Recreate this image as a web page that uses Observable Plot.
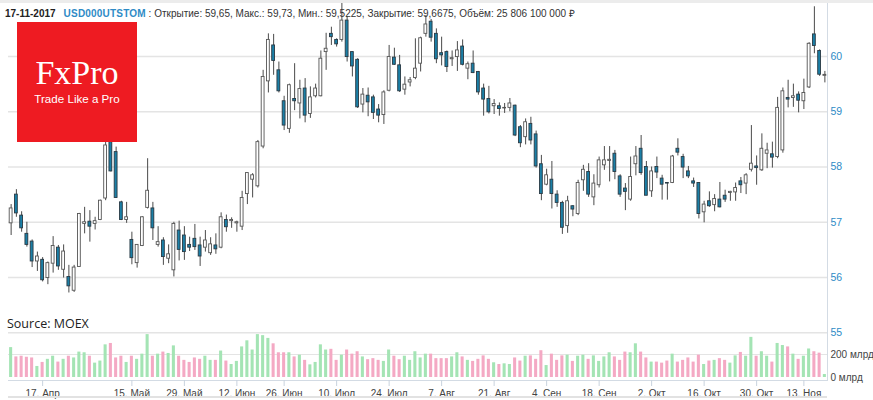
<!DOCTYPE html>
<html><head><meta charset="utf-8">
<script src="https://cdn.jsdelivr.net/npm/d3@7"></script>
<script src="https://cdn.jsdelivr.net/npm/@observablehq/plot@0.6"></script>
<style>
body{margin:0;background:#fff;}
#wrap{position:relative;width:873px;height:400px;overflow:hidden;font-family:"Liberation Sans",Arial,sans-serif;background:#fff;}
#wrap > svg, #wrap > .layer{position:absolute;left:0;top:0;}
#topbar{position:absolute;left:0;top:0;width:873px;height:3px;background:#ececec;}
#header{position:absolute;left:5px;top:8px;font-size:10px;color:#333;white-space:nowrap;line-height:12px;}
#header b.d{color:#222;}
#header b.t{color:#2e8bc6;margin-left:8px;letter-spacing:0.2px;}
#source{position:absolute;left:7px;top:315px;font-family:"Open Sans",sans-serif;font-size:12.5px;color:#222;}
#nav{position:absolute;left:8px;top:396px;width:819px;height:2px;background:#e2e2e2;}
</style></head><body>
<div id="wrap"></div>
<script>
// Trading days, 2017
const dates = [
"04-07","04-10","04-11","04-12","04-13","04-14","04-17","04-18","04-19","04-20","04-21","04-24","04-25","04-26","04-27","04-28",
"05-02","05-03","05-04","05-05","05-10","05-11","05-12","05-15","05-16","05-17","05-18","05-19","05-22","05-23","05-24","05-25","05-26","05-29","05-30","05-31",
"06-01","06-02","06-05","06-06","06-07","06-08","06-09","06-13","06-14","06-15","06-16","06-19","06-20","06-21","06-22","06-23","06-26","06-27","06-28","06-29","06-30",
"07-03","07-04","07-05","07-06","07-07","07-10","07-11","07-12","07-13","07-14","07-17","07-18","07-19","07-20","07-21","07-24","07-25","07-26","07-27","07-28","07-31",
"08-01","08-02","08-03","08-04","08-07","08-08","08-09","08-10","08-11","08-14","08-15","08-16","08-17","08-18","08-21","08-22","08-23","08-24","08-25","08-28","08-29","08-30","08-31",
"09-01","09-04","09-05","09-06","09-07","09-08","09-11","09-12","09-13","09-14","09-15","09-18","09-19","09-20","09-21","09-22","09-25","09-26","09-27","09-28","09-29",
"10-02","10-03","10-04","10-05","10-06","10-09","10-10","10-11","10-12","10-13","10-16","10-17","10-18","10-19","10-20","10-23","10-24","10-25","10-26","10-27","10-30","10-31",
"11-01","11-02","11-03","11-07","11-08","11-09","11-10","11-13","11-14","11-15","11-16","11-17"
];
const open = [
56.98,57.50,57.12,56.79,56.65,56.29,56.32,55.99,56.25,56.54,
56.14,56.01,55.76,56.19,56.97,57.01,56.97,57.04,57.43,58.45,
58.27,57.36,57.04,56.68,56.26,56.57,57.26,57.25,56.59,56.67,
56.34,56.13,56.85,56.76,56.59,56.70,56.58,56.54,56.44,56.58,
56.54,57.04,57.02,56.98,56.92,57.51,57.77,57.65,58.37,59.55,
60.20,59.75,59.19,58.69,59.23,59.15,59.42,58.96,59.28,59.28,
60.08,60.41,60.30,60.30,60.65,60.08,59.94,59.13,59.29,59.26,
59.04,58.94,59.38,59.98,59.84,59.40,59.53,59.61,59.87,60.41,
60.63,60.41,60.06,60.08,59.95,59.99,60.18,59.78,59.87,59.72,
59.42,59.23,59.10,59.10,59.06,59.07,59.11,58.72,58.54,58.78,
58.59,58.05,57.68,57.77,57.50,57.35,56.93,57.29,57.15,57.76,
57.91,57.45,57.67,58.03,58.11,58.24,57.83,57.61,57.41,58.05,
58.33,58.00,57.56,58.00,57.79,57.71,57.71,58.33,58.18,57.92,
57.74,57.71,57.18,57.38,57.31,57.41,57.48,57.53,57.54,57.74,
57.70,57.95,58.01,57.94,58.24,58.23,58.18,58.30,59.25,59.25,
59.31,59.19,59.44,60.40,60.10,59.65
];
const high = [
57.32,57.59,57.19,57.00,56.68,56.46,56.36,56.28,56.74,56.58,
56.59,56.22,56.22,57.16,57.27,57.21,57.09,57.40,58.45,58.51,
58.36,57.38,57.36,56.82,56.59,57.10,58.15,57.36,56.92,56.72,
56.59,57.00,57.02,56.92,56.73,56.96,56.73,56.85,56.72,56.79,
57.17,57.13,57.08,57.02,57.56,57.89,57.88,58.48,59.75,60.41,
60.40,59.90,59.28,59.50,59.87,59.57,59.60,59.45,59.50,60.10,
60.42,60.53,60.32,60.96,60.72,60.08,59.96,59.42,59.43,59.30,
59.13,59.38,60.20,60.15,60.02,59.63,59.62,60.32,60.35,60.74,
60.67,60.50,60.35,60.10,60.10,60.27,60.30,59.90,60.10,59.73,
59.50,59.46,59.22,59.16,59.15,59.24,59.12,58.75,58.87,58.90,
58.65,58.21,57.96,58.10,57.57,57.38,57.47,57.30,57.76,58.03,
58.06,57.86,58.18,58.37,58.37,58.30,57.86,57.70,58.18,58.37,
58.57,58.10,58.00,58.18,57.85,57.72,58.21,58.51,58.23,58.01,
57.80,57.71,57.38,57.55,57.50,57.72,57.58,57.56,57.71,57.81,
57.88,58.75,58.20,58.60,58.43,58.45,59.26,59.43,59.57,59.50,
59.36,59.59,60.25,60.90,60.12,59.73
];
const low = [
56.76,57.09,56.82,56.55,56.18,56.11,55.92,55.87,56.08,56.13,
55.99,55.72,55.73,56.19,56.79,56.64,56.86,57.03,57.39,57.91,
57.43,57.03,56.98,56.23,56.17,56.56,57.24,56.67,56.55,56.22,
56.25,56.01,56.30,56.31,56.47,56.49,56.20,56.46,56.40,56.42,
56.52,56.82,56.89,56.82,56.85,57.32,57.44,57.62,58.33,59.34,
59.66,59.34,58.66,58.61,59.02,58.87,58.80,58.88,59.25,59.27,
59.75,60.20,60.17,60.26,59.90,59.63,59.06,58.98,58.91,58.86,
58.80,58.77,59.36,59.84,59.35,59.30,59.45,59.58,59.72,60.35,
60.26,59.87,59.83,59.71,59.82,59.73,59.83,59.58,59.69,59.30,
58.92,58.96,58.95,58.92,58.97,59.00,58.55,58.35,58.40,58.40,
57.98,57.39,57.66,57.24,57.27,56.78,56.80,57.10,57.12,57.56,
57.45,57.30,57.62,57.94,57.73,57.77,57.45,57.21,57.38,57.84,
57.85,57.48,57.45,57.79,57.40,57.40,57.70,58.20,57.79,57.79,
57.63,57.06,56.99,57.27,57.19,57.26,57.36,57.38,57.38,57.52,
57.50,57.91,57.67,57.92,57.97,57.98,58.15,58.25,59.07,59.08,
58.98,59.04,59.42,60.05,59.64,59.5225
];
const close = [
57.25,57.16,56.89,56.59,56.29,56.38,55.95,56.26,56.57,56.20,
56.47,55.84,56.18,57.15,57.00,56.92,57.02,57.39,58.39,57.92,
57.44,57.04,57.09,56.35,56.59,57.09,57.57,56.89,56.64,56.37,
56.42,56.97,56.50,56.46,56.54,56.55,56.38,56.67,56.60,56.51,
57.09,56.91,57.04,57.00,57.44,57.89,57.85,58.45,59.63,60.30,
59.92,59.37,58.75,59.48,59.19,59.41,58.93,59.26,59.42,59.96,
60.14,60.35,60.22,60.65,59.99,59.82,59.08,59.31,59.17,58.98,
58.93,59.35,59.99,59.85,59.37,59.49,59.57,59.78,60.33,60.58,
60.34,59.95,60.02,59.81,59.97,60.11,59.85,59.86,59.70,59.35,
59.22,58.99,59.14,59.05,59.07,59.15,58.57,58.43,58.81,58.48,
58.01,57.51,57.85,57.51,57.35,56.90,57.38,57.23,57.71,57.95,
57.50,57.70,58.12,58.12,58.13,57.91,57.50,57.55,57.82,58.19,
57.89,57.48,57.92,57.90,57.68,57.70,58.19,58.26,57.99,57.83,
57.70,57.15,57.32,57.29,57.42,57.27,57.41,57.55,57.62,57.67,
57.85,58.06,57.98,58.33,58.30,58.17,59.07,59.37,59.22,59.28,
59.20,59.34,60.23,60.19,59.67,59.6675
];
// volume, billions of rubles (млрд)
const volume = [
260,179,185,176,170,96,131,158,185,134,
158,185,170,221,215,185,125,143,284,296,
170,185,131,185,158,203,373,185,203,221,
209,275,185,149,131,170,158,185,149,149,
230,143,113,140,266,319,239,373,364,340,
293,215,215,215,179,194,149,110,131,284,
239,245,149,194,239,203,224,179,155,164,
149,140,239,185,155,185,149,224,170,203,
203,164,164,164,179,215,179,149,140,158,
188,158,128,113,119,113,170,143,185,188,
158,233,104,203,149,188,194,140,185,194,
158,188,140,179,215,179,149,221,215,293,
221,170,134,134,125,143,203,134,149,170,
134,194,113,143,149,164,149,125,188,218,
185,349,185,224,185,134,296,278,266,203,
158,185,248,224,212,25.8
];
const tickDates  = ["04-17","05-15","05-29","06-13","06-26","07-10","07-24","08-07","08-21","09-04","09-18","10-02","10-16","10-30","11-13"];
const tickLabels = ["17. Апр","15. Май","29. Май","12. Июн","26. Июн","10. Июл","24. Июл","7. Авг","21. Авг","4. Сен","18. Сен","2. Окт","16. Окт","30. Окт","13. Ноя"];
const priceTicks = [55,56,57,58,59,60];
const volumeTicks = [0,200];

const data = dates.map((d,i)=>({date:d, open:open[i], high:high[i], low:low[i], close:close[i], volume:volume[i], up: close[i] >= open[i]}));
const upData = data.filter(d=>d.up), downData = data.filter(d=>!d.up);
const labelOf = new Map(tickDates.map((d,i)=>[d, tickLabels[i]]));

const W = 873, H = 400;
const font = "'Liberation Sans', Arial, sans-serif";
const xScale = {type:"band", domain: dates, range:[8, 827], padding:0};

const volPlot = Plot.plot({
  width: W, height: H, marginLeft: 8, marginRight: 46, marginTop: 0, marginBottom: 20,
  style: {background:"transparent", fontFamily: font, overflow:"visible"},
  x: {...xScale, axis: null},
  y: {domain:[0,200], range:[377,354]},
  marks: [
    Plot.gridY(volumeTicks.slice(1), {stroke:"#e4e4e4", strokeOpacity:1, strokeWidth:1.2}),
    Plot.barY(upData, {x:"date", y:"volume", fill:"#a4e4b4", insetLeft:1.1, insetRight:1.1}),
    Plot.barY(downData, {x:"date", y:"volume", fill:"#f4a9c4", insetLeft:1.1, insetRight:1.1}),
    Plot.axisY(volumeTicks, {anchor:"right", tickSize:0, tickPadding:3, fill:"#444", fontSize:10, label:null, tickFormat: d => d + " млрд"})
  ]
});

const pricePlot = Plot.plot({
  width: W, height: H, marginLeft: 8, marginRight: 46, marginTop: 0, marginBottom: 20,
  style: {background:"transparent", fontFamily: font, overflow:"visible"},
  x: xScale,
  y: {domain:[55,60], range:[332.25,56]},
  marks: [
    Plot.gridY(priceTicks, {stroke:"#e4e4e4", strokeOpacity:1, strokeWidth:1.5}),
    Plot.frame({anchor:"bottom", stroke:"#d3dbe4"}),
    Plot.frame({anchor:"right", stroke:"#d3dbe4"}),
    Plot.ruleX(data, {x:"date", y1:"low", y2:"high", stroke:"#4a4a4a", strokeWidth:1}),
    Plot.barY(upData, {x:"date", y1:"open", y2:"close", fill:"#ffffff", stroke:"#555", strokeWidth:0.9, insetLeft:1.2, insetRight:1.2}),
    Plot.barY(downData, {x:"date", y1:"open", y2:"close", fill:"#1b7fa6", stroke:"#2b3a44", strokeWidth:0.9, insetLeft:1.2, insetRight:1.2}),
    Plot.axisY(priceTicks, {anchor:"right", tickSize:0, tickPadding:3, fill:"#2e8bc6", fontSize:10.5, label:null, tickFormat: d => String(d)}),
    Plot.axisX(tickDates, {anchor:"bottom", tickSize:6, tickPadding:3, stroke:"#c9d3de", fill:"#444", fontSize:10, label:null, tickFormat: d => labelOf.get(d)})
  ]
});

const wrap = document.getElementById("wrap");
wrap.appendChild(volPlot);
wrap.appendChild(pricePlot);

wrap.insertAdjacentHTML("beforeend", `
<div id="topbar"></div>
<div id="header"><b class="d">17-11-2017</b><b class="t">USD000UTSTOM</b> : Открытие: 59,65, Макс.: 59,73, Мин.: 59,5225, Закрытие: 59,6675, Объём: 25 806 100 000 ₽</div>
<svg class="layer" style="left:17px;top:22px" width="120" height="120">
  <rect width="120" height="120" fill="#ee1b22"/>
  <text x="60" y="62" text-anchor="middle" fill="#fff" font-family="'Liberation Serif','DejaVu Serif',serif" font-size="34">FxPro</text>
  <text x="60" y="81" text-anchor="middle" fill="#fff" font-family="'Liberation Sans',Arial,sans-serif" font-size="11.6">Trade Like a Pro</text>
</svg>
<div id="source">Source: MOEX</div>
<div id="nav"></div>
`);
</script>
</body></html>
